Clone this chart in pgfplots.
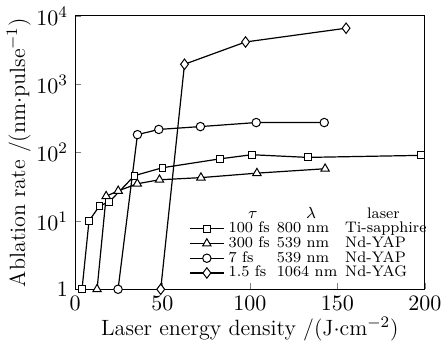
\documentclass[border=0pt]{standalone}
\usepackage{pgfplots}
\pgfplotsset{compat=1.18}
\begin{document}
\begin{tikzpicture}
\begin{axis}[
  scale only axis,
  width=174pt, height=136pt,
  ymode=log,
  xmin=0, xmax=200, ymin=1, ymax=10000,
  xtick={0,50,100,150,200},
  ytick={1,10,100,1000,10000},
  yticklabels={$1$,$10^1$,$10^2$,$10^3$,$10^4$},
  minor tick num=0,
  yminorticks=false,
  tick align=inside,
  xtick pos=left, ytick pos=left,
  major tick length=3pt,
  tick label style={font=\fontsize{10.8}{12}\selectfont},
  label style={font=\fontsize{11}{13}\selectfont},
  xlabel={Laser energy density /(J$\cdot$cm$^{-2}$)},
  ylabel={Ablation rate /(nm$\cdot$pulse$^{-1}$)},
  xlabel style={yshift=3.5pt},
  ylabel style={yshift=-4pt},
  every axis plot/.append style={black, line width=0.6pt, mark options={fill=white, solid, line width=0.5pt}},
  clip=false,
  legend style={at={(rel axis cs:0.325,0.018)}, anchor=south west, draw=none, fill=none,
    font=\fontsize{7.6}{8}\selectfont, row sep=-3.6pt, inner sep=0pt},
  legend cell align=left,
]
\addlegendimage{empty legend}
\addlegendentry{\makebox[24pt][c]{$\tau$}\makebox[34pt][c]{$\lambda$}\makebox[38pt][c]{laser}}
\addplot[black, mark=square*, mark size=1.7pt] coordinates {
 (4,1) (8,10) (14,16.6) (19.6,19) (34,46) (50,60) (83,81) (101,93) (133,85) (198,91)};
\addlegendentry{\makebox[24pt][l]{100 fs}\makebox[34pt][l]{800 nm}Ti-sapphire}
\addplot[black, mark=triangle*, mark size=2.4pt] coordinates {
 (12.6,1) (17.8,23) (24.7,27.5) (35.6,35) (48.3,40) (72,43) (104,50) (143,58)};
\addlegendentry{\makebox[24pt][l]{300 fs}\makebox[34pt][l]{539 nm}Nd-YAP}
\addplot[black, mark=*, mark size=2.1pt] coordinates {
 (24.6,1) (35.7,183) (47.9,218) (71.7,240) (103.6,275) (142.5,275)};
\addlegendentry{\makebox[24pt][l]{7 fs}\makebox[34pt][l]{539 nm}Nd-YAP}
\addplot[black, mark=diamond*, mark size=2.6pt] coordinates {
 (49,1) (62.6,1960) (97.5,4150) (155,6600)};
\addlegendentry{\makebox[24pt][l]{1.5 fs}\makebox[34pt][l]{1064 nm}Nd-YAG}
\end{axis}
\end{tikzpicture}
\end{document}
